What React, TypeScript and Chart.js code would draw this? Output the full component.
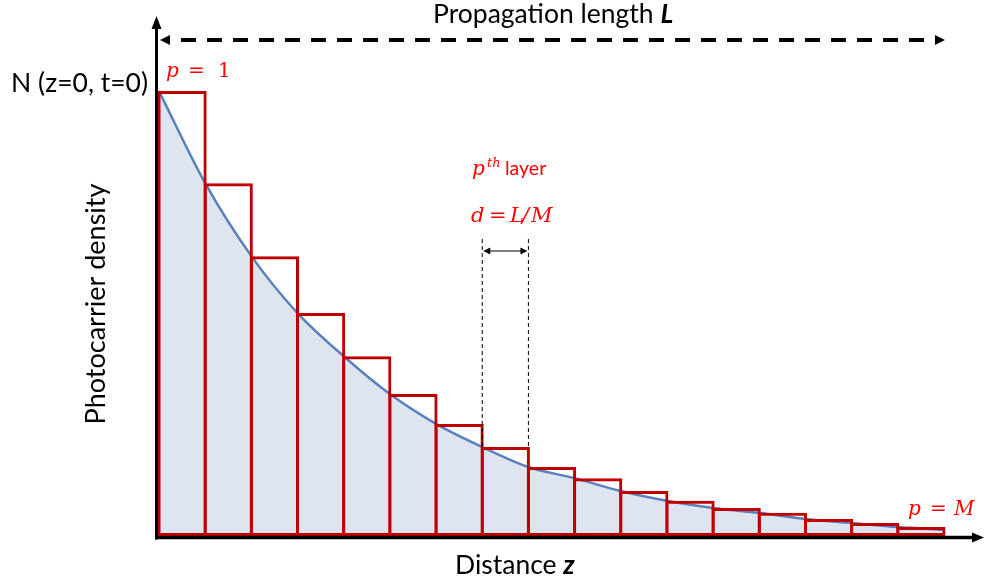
import { useEffect, useRef } from "react";
import { Chart, registerables } from "chart.js";

Chart.register(...registerables);

// Layer index p = 1 … M (M = 17), photocarrier density of each layer (normalised to N(z=0,t=0))
const layerNumbers = [1, 2, 3, 4, 5, 6, 7, 8, 9, 10, 11, 12, 13, 14, 15, 16, 17];
const layerDensity = [1.0, 0.793, 0.629, 0.501, 0.404, 0.319, 0.252, 0.2, 0.155, 0.13, 0.101, 0.079, 0.063, 0.052, 0.038, 0.029, 0.02];
// Continuous density curve N(z), z in units of layer thickness d
const curvePositions = [0, 1, 2, 3, 4, 5, 6, 7, 8, 9, 10, 11, 12, 13, 14, 15, 16, 17];
const curveDensity = [1.0, 0.793, 0.629, 0.501, 0.404, 0.319, 0.252, 0.2, 0.155, 0.13, 0.101, 0.079, 0.063, 0.052, 0.038, 0.029, 0.02, 0.014];
const yAxisMax = 1.171;
const markedLayer = 8; // p-th layer highlighted with d = L/M

const SANS = "Lato, 'Open Sans', sans-serif";
const MATH = "'DejaVu Serif', serif";
const RED_TEXT = "#ff0000";

function arrowhead(ctx: CanvasRenderingContext2D, tx: number, ty: number, angle: number, len: number, half: number) {
  ctx.save();
  ctx.translate(tx, ty);
  ctx.rotate(angle);
  ctx.beginPath();
  ctx.moveTo(0, 0);
  ctx.lineTo(-len, -half);
  ctx.lineTo(-len, half);
  ctx.closePath();
  ctx.fill();
  ctx.restore();
}

function txt(ctx: CanvasRenderingContext2D, s: string, x: number, y: number, font: string, color: string, align: CanvasTextAlign = "left") {
  ctx.font = font;
  ctx.fillStyle = color;
  ctx.textAlign = align;
  ctx.textBaseline = "alphabetic";
  ctx.fillText(s, x, y);
}

const overlay = {
  id: "overlay",
  afterDatasetsDraw(chart: any) {
    const { ctx, chartArea: a, scales } = chart;
    const xs = scales.x;
    const ys = scales.y;
    ctx.save();
    ctx.strokeStyle = "#000";
    ctx.fillStyle = "#000";

    // y axis with arrow
    const ax = a.left - 2.5;
    ctx.lineWidth = 3;
    ctx.beginPath();
    ctx.moveTo(ax, a.bottom + 3.5);
    ctx.lineTo(ax, 26);
    ctx.stroke();
    arrowhead(ctx, ax, 16, -Math.PI / 2, 13, 5);

    // x axis with arrow
    const ay = a.bottom + 1.5;
    ctx.lineWidth = 3.5;
    ctx.beginPath();
    ctx.moveTo(ax - 1.5, ay);
    ctx.lineTo(974, ay);
    ctx.stroke();
    arrowhead(ctx, 984, ay, 0, 12, 5);

    // dashed propagation length arrow
    const lx = xs.getPixelForValue(0) + 1;
    const rx = xs.getPixelForValue(layerNumbers.length) + 1;
    const dy = 40;
    ctx.lineWidth = 4;
    ctx.setLineDash([15, 11]);
    ctx.beginPath();
    ctx.moveTo(lx + 21, dy);
    ctx.lineTo(rx - 10, dy);
    ctx.stroke();
    ctx.setLineDash([]);
    arrowhead(ctx, lx, dy, Math.PI, 10, 5);
    arrowhead(ctx, rx, dy, 0, 10, 5);

    // p-th layer marker
    const mx0 = xs.getPixelForValue(markedLayer - 1);
    const mx1 = xs.getPixelForValue(markedLayer);
    const mTop = ys.getPixelForValue(layerDensity[markedLayer - 1]);
    ctx.lineWidth = 1;
    ctx.setLineDash([4, 3]);
    ctx.beginPath();
    ctx.moveTo(mx0, 239);
    ctx.lineTo(mx0, mTop);
    ctx.moveTo(mx1, 239);
    ctx.lineTo(mx1, mTop);
    ctx.stroke();
    ctx.setLineDash([]);
    ctx.beginPath();
    ctx.moveTo(mx0 + 5, 251);
    ctx.lineTo(mx1 - 5, 251);
    ctx.stroke();
    arrowhead(ctx, mx0 + 1, 251, Math.PI, 7, 3.5);
    arrowhead(ctx, mx1 - 1, 251, 0, 7, 3.5);

    // texts
    const big = `26.5px ${SANS}`;
    const bigBI = `italic bold 26.5px ${SANS}`;
    txt(ctx, "Propagation length", 433, 23, big, "#000");
    ctx.font = big;
    const w1 = ctx.measureText("Propagation length ").width;
    txt(ctx, "L", 433 + w1, 23, bigBI, "#000");

    txt(ctx, "N (z=0, t=0)", 148, 92, big, "#000", "right");

    txt(ctx, "Distance", 455, 574, big, "#000");
    ctx.font = big;
    const w2 = ctx.measureText("Distance ").width;
    txt(ctx, "z", 455 + w2, 574, bigBI, "#000");

    ctx.save();
    ctx.translate(105, 304);
    ctx.rotate(-Math.PI / 2);
    txt(ctx, "Photocarrier density", 0, 0, `27px ${SANS}`, "#000", "center");
    ctx.restore();

    const mi = `italic 20px ${MATH}`;
    const mu = `20px ${MATH}`;
    // p = 1
    txt(ctx, "p", 166, 77, mi, RED_TEXT);
    txt(ctx, "=", 188, 77, mu, RED_TEXT);
    txt(ctx, "1", 218, 77, mu, RED_TEXT);
    // p = M
    txt(ctx, "p", 908, 515, mi, RED_TEXT);
    txt(ctx, "=", 930, 515, mu, RED_TEXT);
    txt(ctx, "M", 954, 515, mi, RED_TEXT);
    // p^th layer
    txt(ctx, "p", 472, 175, mi, RED_TEXT);
    txt(ctx, "th", 487, 167, `italic 13px ${MATH}`, RED_TEXT);
    txt(ctx, "layer", 505, 175, `19.5px ${SANS}`, RED_TEXT);
    // d = L/M
    const mi2 = `italic 21px ${MATH}`;
    txt(ctx, "d", 471, 222, mi2, RED_TEXT);
    txt(ctx, "=", 489, 222, `21px ${MATH}`, RED_TEXT);
    txt(ctx, "L", 510, 222, mi2, RED_TEXT);
    txt(ctx, "/", 522, 222, mi2, RED_TEXT);
    txt(ctx, "M", 531, 222, mi2, RED_TEXT);

    ctx.restore();
  },
};

export default function App() {
  const ref = useRef<HTMLCanvasElement>(null);
  useEffect(() => {
    const canvas = ref.current;
    if (!canvas) return;
    const unitPx = (984 - 159 - 40) / layerNumbers.length;
    const borderW = 3;
    const chart = new Chart(canvas, {
      data: {
        datasets: [
          {
            type: "bar",
            data: layerNumbers.map((p, i) => ({ x: p - 0.5, y: layerDensity[i] })),
            backgroundColor: "rgba(0,0,0,0)",
            borderColor: "#c00000",
            borderWidth: borderW,
            borderSkipped: false,
            barPercentage: 1 + borderW / unitPx,
            categoryPercentage: 1,
            clip: false,
            order: 0,
          } as any,
          {
            type: "line",
            data: curvePositions.map((z, i) => ({ x: z, y: curveDensity[i] })),
            borderColor: "#5b80be",
            borderWidth: 2.5,
            backgroundColor: "#dfe5ef",
            fill: "origin",
            pointRadius: 0,
            cubicInterpolationMode: "monotone",
            order: 1,
          } as any,
        ],
      },
      options: {
        responsive: false,
        animation: false,
        devicePixelRatio: 1,
        layout: { padding: { left: 159, right: 40, top: 15, bottom: 50 } },
        scales: {
          x: { type: "linear", min: 0, max: layerNumbers.length, display: false, offset: false },
          y: { type: "linear", min: 0, max: yAxisMax, display: false },
        },
        plugins: { legend: { display: false }, tooltip: { enabled: false } },
        events: [],
      },
      plugins: [overlay],
    } as any);
    return () => chart.destroy();
  }, []);
  return (
    <div style={{ position: "fixed", left: 0, top: 0, width: 984, height: 586, background: "#fff" }}>
      <canvas ref={ref} width={984} height={586} style={{ display: "block", width: 984, height: 586 }} />
    </div>
  );
}
